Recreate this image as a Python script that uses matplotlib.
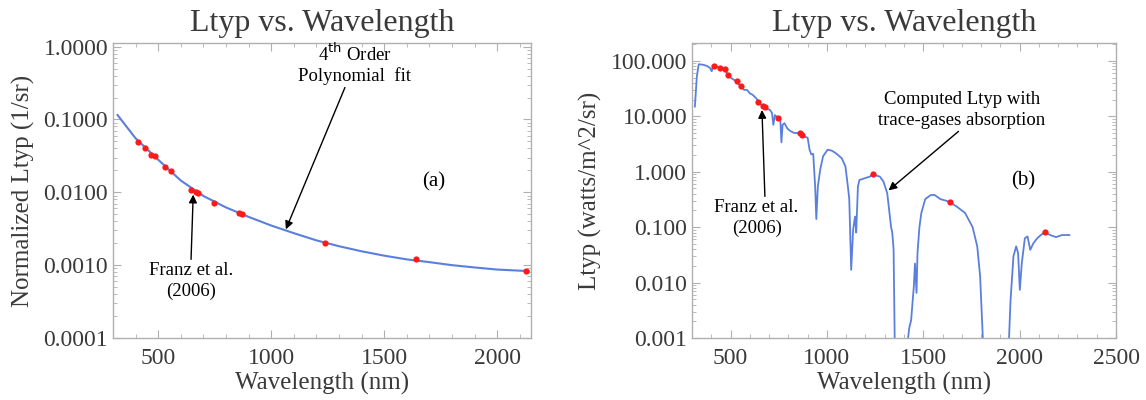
import matplotlib.pyplot as plt
import numpy as np
from matplotlib.ticker import MultipleLocator, LogLocator, NullFormatter

plt.rcParams['font.family'] = ['Liberation Serif', 'DejaVu Serif']

# Franz et al. (2006) band wavelengths (nm)
franz_wl = [412, 443, 469, 488, 531, 555, 645, 667, 678, 748, 859, 869, 1240, 1640, 2130]
# (a) normalized Ltyp at the Franz bands (1/sr)
franz_norm = [0.049, 0.040, 0.033, 0.031, 0.022, 0.0197, 0.0109, 0.0101, 0.0098,
              0.0072, 0.0052, 0.0051, 0.00199, 0.00121, 0.00084]
# (a) 4th order polynomial fit
fit_wl = [320, 400, 500, 600, 700, 800, 900, 1000, 1100, 1200, 1300, 1400,
          1500, 1600, 1700, 1800, 1900, 2000, 2100, 2140]
fit_norm = [0.115, 0.055, 0.028, 0.0145, 0.0089, 0.0062, 0.0046, 0.0035, 0.00275,
            0.00219, 0.00182, 0.00155, 0.00135, 0.00120, 0.00110, 0.00100,
            0.00093, 0.00087, 0.00084, 0.00083]

# (b) Ltyp at the Franz bands (watts/m^2/sr)
franz_ltyp = [80, 74, 70, 56, 43, 35, 17.8, 15.5, 14.6, 9.2, 5.0, 4.6, 0.92, 0.28, 0.081]
# (b) computed Ltyp with trace-gases absorption
spec_wl = [315, 325, 335, 358, 378, 394, 402, 409, 417, 430, 443, 456, 469, 478, 488,
           500, 515, 531, 545, 555, 570, 585, 600, 614, 634, 645, 656, 667, 678, 690,
           703, 715, 722, 730, 748, 758, 764, 770, 780, 795, 811, 830, 841, 859, 869,
           885, 900, 910, 919, 929, 939, 945, 953, 965, 980, 1004, 1025, 1047, 1077,
           1096, 1110, 1116, 1126, 1136, 1146, 1152, 1161, 1169, 1195, 1224, 1240,
           1256, 1274, 1293, 1313, 1333, 1339, 1346, 1352, 1356, 1412, 1418, 1427,
           1437, 1451, 1457, 1465, 1470, 1480, 1490, 1510, 1539, 1559, 1589, 1618,
           1640, 1677, 1717, 1756, 1780, 1795, 1809, 1814, 1938, 1945, 1953, 1968,
           1982, 1992, 2001, 2011, 2027, 2041, 2055, 2071, 2091, 2110, 2130, 2159,
           2189, 2219, 2258]
spec_ltyp = [15.0, 52, 87, 85, 81, 74, 65, 79, 85, 79, 74, 72, 70, 63, 56,
             50, 46, 42, 37, 34, 30, 30, 26, 24.5, 21, 18, 16.5, 15.5, 14.6, 13.5,
             13.2, 11.5, 7.0, 10.5, 9.2, 9.0, 3.4, 7.0, 7.5, 6.0, 5.4, 5.0, 5.0, 5.0, 4.7,
             4.3, 4.1, 2.5, 2.05, 2.1, 0.54, 0.14, 0.54, 1.08, 1.9, 2.5, 2.4, 2.15, 1.75,
             1.25, 0.5, 0.32, 0.017, 0.09, 0.155, 0.08, 0.54, 0.71, 0.76, 0.82, 0.92,
             0.85, 0.82, 0.67, 0.41, 0.10, 0.08, 0.04, 0.0008, 0.00001, 0.00001, 0.0008, 0.0015,
             0.0021, 0.0085, 0.022, 0.0065, 0.034, 0.10, 0.18, 0.32, 0.38, 0.38, 0.32, 0.30,
             0.28, 0.23, 0.18, 0.10, 0.045, 0.013, 0.001, 0.00001, 0.00001, 0.001, 0.0049, 0.030,
             0.045, 0.034, 0.0074, 0.022, 0.063, 0.068, 0.039, 0.051, 0.063, 0.072, 0.081, 0.072,
             0.066, 0.072, 0.072]

line_color = '#5a7fdc'
dot_color = '#ff1a1a'
text_gray = '#3a3a3a'
spine_gray = '#b0b0b0'

fig = plt.figure(figsize=(11.46, 4.0), dpi=100)
ax1 = fig.add_axes([113 / 1146, 62 / 400, 418 / 1146, 295 / 400])
ax2 = fig.add_axes([692 / 1146, 62 / 400, 424 / 1146, 295 / 400])


def style_axes(ax):
    for s in ax.spines.values():
        s.set_color(spine_gray)
        s.set_linewidth(1.0)
    ax.xaxis.set_minor_locator(MultipleLocator(100))
    ax.yaxis.set_minor_locator(LogLocator(base=10, subs=np.arange(2, 10)))
    ax.yaxis.set_minor_formatter(NullFormatter())
    ax.tick_params(which='both', direction='in', top=True, right=True,
                   color=spine_gray, labelcolor=text_gray, labelsize=17)
    ax.tick_params(which='major', length=6)
    ax.tick_params(which='minor', length=3)
    ax.tick_params(axis='x', which='major', pad=7)
    ax.set_xlabel('Wavelength (nm)', fontsize=18, color=text_gray, labelpad=2)
    ax.set_title('Ltyp vs. Wavelength', fontsize=23, color=text_gray, pad=9)


arrow = dict(arrowstyle='-|>', color='black', lw=1.0, mutation_scale=12, shrinkA=0, shrinkB=0)

# (a) normalized
ax1.plot(fit_wl, fit_norm, color=line_color, lw=1.5)
ax1.plot(franz_wl, franz_norm, 'o', color=dot_color, ms=4.5, mec='none')
ax1.set_yscale('log')
ax1.set_xlim(300, 2150)
ax1.set_ylim(1e-4, 1.12)
ax1.set_yticks([1, 0.1, 0.01, 0.001, 0.0001])
ax1.set_yticklabels(['1.0000', '0.1000', '0.0100', '0.0010', '0.0001'])
ax1.set_xticks([500, 1000, 1500, 2000])
ax1.set_ylabel('Normalized Ltyp (1/sr)', fontsize=18, color=text_gray, labelpad=6)
style_axes(ax1)
ax1.annotate('4$^{\\rm th}$ Order\nPolynomial  fit', xy=(1065, 0.0031), xytext=(1370, 0.30),
             ha='center', va='bottom', fontsize=13.5, arrowprops=arrow, linespacing=1.1)
ax1.annotate('Franz et al.\n(2006)', xy=(655, 0.0093), xytext=(645, 0.0011),
             ha='center', va='top', fontsize=13.5, linespacing=1.25,
             arrowprops=dict(arrow, relpos=(0.5, 1.0)))
ax1.text(1720, 0.014, '(a)', ha='center', va='center', fontsize=15)

# (b) absolute
ax2.plot(spec_wl, spec_ltyp, color=line_color, lw=1.3)
ax2.plot(franz_wl, franz_ltyp, 'o', color=dot_color, ms=4.5, mec='none')
ax2.set_yscale('log')
ax2.set_xlim(300, 2500)
ax2.set_ylim(1e-3, 210)
ax2.set_yticks([100, 10, 1, 0.1, 0.01, 0.001])
ax2.set_yticklabels(['100.000', '10.000', '1.000', '0.100', '0.010', '0.001'])
ax2.set_xticks([500, 1000, 1500, 2000, 2500])
ax2.set_ylabel('Ltyp (watts/m^2/sr)', fontsize=18, color=text_gray, labelpad=6)
style_axes(ax2)
ax2.annotate('Computed Ltyp with\ntrace-gases absorption', xy=(1320, 0.46), xytext=(1700, 6.0),
             ha='center', va='bottom', fontsize=13.5, linespacing=1.25,
             arrowprops=dict(arrow, relpos=(0.5, 0.0)))
ax2.annotate('Franz et al.\n(2006)', xy=(663, 13), xytext=(635, 0.32),
             ha='center', va='top', fontsize=13.5, linespacing=1.25,
             arrowprops=dict(arrow, relpos=(0.6, 1.0)))
ax2.text(2020, 0.67, '(b)', ha='center', va='center', fontsize=15)

fig.savefig('out.png', dpi=100)
